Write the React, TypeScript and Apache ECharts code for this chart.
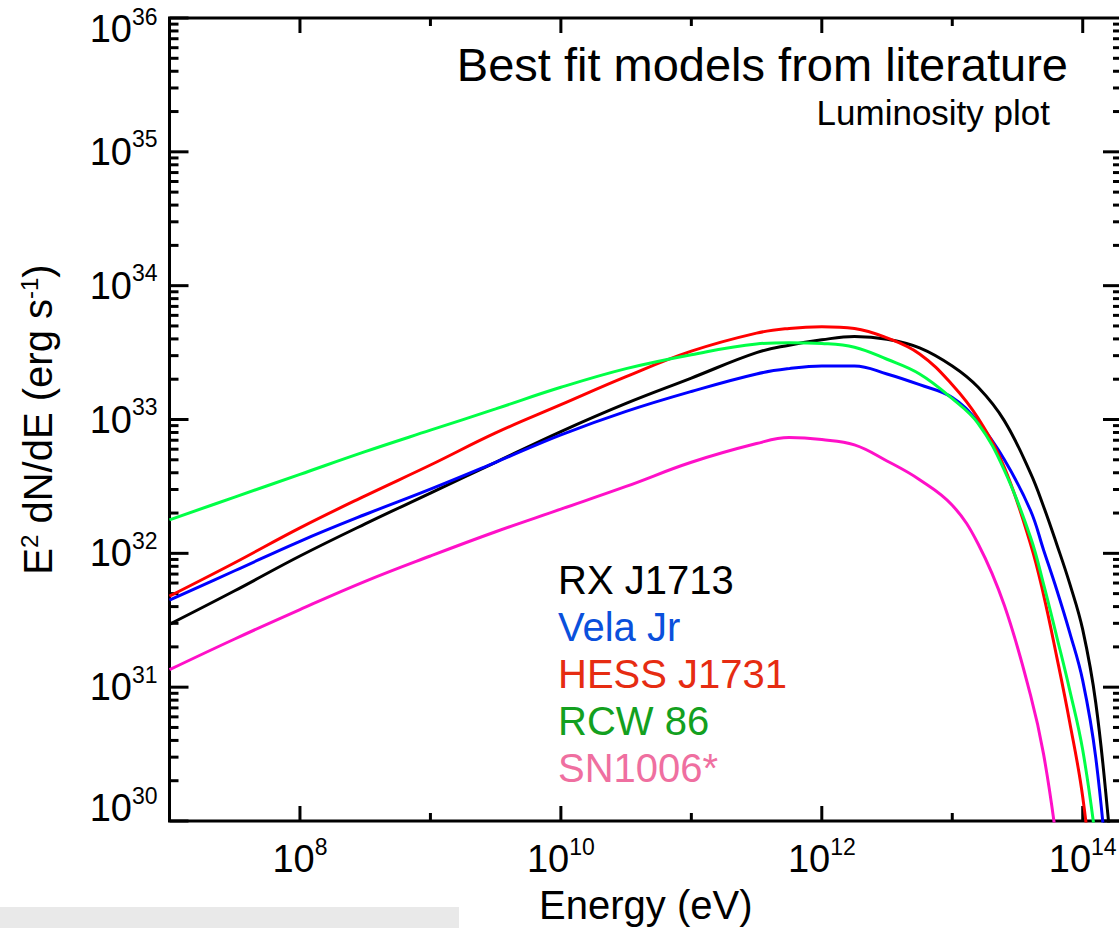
import React, { useEffect, useRef } from 'react';
import * as echarts from 'echarts';

const FONT = '"Liberation Sans", Arial, Helvetica, sans-serif';

// Energy grid (eV)
const energies = [
  1e7, 3.16e7, 1e8, 3.16e8, 1e9, 3.16e9, 1e10, 3.16e10, 1e11, 3.16e11, 5.62e11, 1e12,
  1.78e12, 3.16e12, 5.62e12, 1e13, 1.58e13, 2.51e13, 3.98e13, 5.01e13, 6.31e13,
  7.94e13, 1e14, 1.26e14, 1.58e14, 2e14,
];

// E^2 dN/dE (erg s^-1)
const rxJ1713 = [
  2.95e31, 5.25e31, 9.55e31, 1.66e32, 2.82e32, 4.79e32, 8.13e32, 1.32e33, 2.04e33, 3.16e33, 3.59e33, 3.94e33,
  4.17e33, 3.98e33, 3.43e33, 2.51e33, 1.74e33, 9.77e32, 3.98e32, 2.24e32, 1.175e32,
  5.96e31, 2.69e31, 7.59e30, 9.77e29, 7.94e28,
];
const velaJr = [
  4.47e31, 7.41e31, 1.23e32, 1.95e32, 3.02e32, 4.79e32, 7.67e32, 1.15e33, 1.62e33, 2.19e33, 2.4e33, 2.51e33,
  2.51e33, 2.19e33, 1.82e33, 1.46e33, 9.55e32, 5.01e32, 2.09e32, 1.06e32, 5.37e31,
  2.57e31, 1.12e31, 2.95e30, 3.16e29, null,
];
const hessJ1731 = [
  4.79e31, 8.51e31, 1.55e32, 2.69e32, 4.57e32, 7.94e32, 1.29e33, 2.09e33, 3.24e33, 4.42e33, 4.79e33, 4.93e33,
  4.79e33, 4.07e33, 3.09e33, 1.82e33, 1.02e33, 4.37e32, 1.175e32, 4.9e31, 1.7e31,
  5.5e30, 1.51e30, 2.0e29, null, null,
];
const rcw86 = [
  1.78e32, 2.63e32, 3.89e32, 5.75e32, 8.32e32, 1.2e33, 1.74e33, 2.4e33, 3.05e33, 3.67e33, 3.75e33, 3.7e33,
  3.47e33, 2.82e33, 2.19e33, 1.43e33, 9.33e32, 4.17e32, 1.32e32, 5.89e31, 2.4e31,
  9.55e30, 3.39e30, 7.08e29, null, null,
];
const sn1006 = [
  1.35e31, 2.29e31, 3.8e31, 6.17e31, 9.55e31, 1.45e32, 2.14e32, 3.16e32, 4.79e32, 6.61e32, 7.33e32, 7.08e32,
  6.46e32, 4.9e32, 3.55e32, 2.29e32, 1.175e32, 4.07e31, 8.71e30, 3.16e30, 7.08e29,
  null, null, null, null, null,
];

const seriesNames = ['RX J1713', 'Vela Jr', 'HESS J1731', 'RCW 86', 'SN1006*'];
const seriesValues = [rxJ1713, velaJr, hessJ1731, rcw86, sn1006];
const lineColors = ['#000000', '#0000ff', '#ff0000', '#00ff46', '#ff10c8'];
const legendColors = ['#000000', '#0a50dc', '#e62c12', '#13a020', '#ef6fa0'];

const xTickExponents = [8, 9, 10, 11, 12, 13, 14];
const yTickExponents = [30, 31, 32, 33, 34, 35];
const yMinorMultipliers = [2, 3, 4, 5, 6, 7, 8, 9];

const X_MIN = 1e7;
const X_MAX = 2e14;
const Y_MIN = 1e30;
const Y_MAX = 1e36;

export default function App() {
  const ref = useRef<HTMLDivElement>(null);

  useEffect(() => {
    const chart = echarts.init(ref.current!, null, { renderer: 'svg' });

    const expOf = (v: number) => {
      const e = Math.log10(v);
      const r = Math.round(e);
      return Math.abs(e - r) > 0.01 ? null : r;
    };
    const xLabel = (v: number) => {
      const r = expOf(v);
      if (r === null || r % 2 !== 0) return '';
      return `{b|10}{s|${r}}`;
    };
    const yLabel = (v: number) => {
      const r = expOf(v);
      if (r === null) return '';
      if (r === 36) return `{bt|10}{st|${r}}`;
      if (r === 30) return `{bb|10}{sb|${r}}`;
      return `{b|10}{s|${r}}`;
    };
    const base = { fontSize: 38, fontFamily: FONT, color: '#000' };
    const sup = { fontSize: 23, verticalAlign: 'top', fontFamily: FONT, color: '#000' };
    const rich: any = {
      b: { ...base, lineHeight: 48 },
      s: { ...sup },
      bt: { ...base, lineHeight: 48, padding: [22, 0, 0, 0] },
      st: { ...sup, padding: [11, 0, 0, 0] },
      bb: { ...base, lineHeight: 74, padding: [0, 0, 26, 0] },
      sb: { ...sup },
    };

    const option: any = {
      animation: false,
      backgroundColor: '#ffffff',
      title: [
        {
          text: 'Best fit models from literature',
          right: 46,
          top: 36,
          textStyle: { fontSize: 47, lineHeight: 47, fontWeight: 'normal', fontFamily: FONT, color: '#000' },
        },
        {
          text: 'Luminosity plot',
          right: 64,
          top: 90,
          textStyle: { fontSize: 35, lineHeight: 35, fontWeight: 'normal', fontFamily: FONT, color: '#000' },
        },
      ],
      legend: {
        orient: 'vertical',
        left: 553,
        top: 556,
        padding: 0,
        itemGap: 0,
        itemWidth: 0,
        itemHeight: 0,
        icon: 'none',
        selectedMode: false,
        textStyle: { fontSize: 40, lineHeight: 47, fontFamily: FONT },
        data: seriesNames.map((n, i) => ({ name: n, textStyle: { color: legendColors[i] } })),
      },
      grid: {
        left: 169.5,
        top: 18,
        right: -3,
        bottom: 107,
        outerBoundsMode: 'none',
        containLabel: false,
        show: true,
        borderColor: '#000',
        borderWidth: 3,
        backgroundColor: 'transparent',
      },
      xAxis: {
        type: 'log',
        logBase: 10,
        min: X_MIN,
        max: X_MAX,
        name: 'Energy (eV)',
        nameLocation: 'middle',
        nameGap: 64,
        nameTextStyle: { fontSize: 40, fontFamily: FONT, color: '#000' },
        axisLine: { show: false },
        axisTick: { show: false },
        splitLine: { show: false },
        axisLabel: {
          margin: 14,
          showMinLabel: false,
          showMaxLabel: false,
          formatter: xLabel,
          rich,
        },
      },
      yAxis: {
        type: 'log',
        logBase: 10,
        min: Y_MIN,
        max: Y_MAX,
        name: '{t|E}{s|2}{t| dN/dE (erg s}{s|-1}{t|)}',
        nameLocation: 'middle',
        nameGap: 112,
        nameTextStyle: {
          fontSize: 40,
          fontFamily: FONT,
          color: '#000',
          rich: {
            t: { fontSize: 40, lineHeight: 40, fontFamily: FONT, color: '#000' },
            s: { fontSize: 24, lineHeight: 10, verticalAlign: 'top', fontFamily: FONT, color: '#000' },
          },
        },
        axisLine: { show: false },
        axisTick: { show: false },
        splitLine: { show: false },
        axisLabel: {
          margin: 12,
          formatter: yLabel,
          rich,
        },
      },
      series: seriesNames.map((n, i) => ({
        name: n,
        type: 'line',
        data: energies.map((e, j) => [e, seriesValues[i][j]]),
        showSymbol: false,
        smooth: 0.4,
        clip: true,
        lineStyle: { color: lineColors[i], width: 3 },
        itemStyle: { color: lineColors[i] },
      })),
    };

    chart.setOption(option);

    const g: any[] = [];
    const [xl, yb] = chart.convertToPixel({ gridIndex: 0 }, [X_MIN, Y_MIN]) as number[];
    const [xr, yt] = chart.convertToPixel({ gridIndex: 0 }, [X_MAX, Y_MAX]) as number[];
    const tick = (x1: number, y1: number, x2: number, y2: number) =>
      g.push({
        type: 'line',
        silent: true,
        shape: { x1, y1, x2, y2 },
        style: { stroke: '#000', lineWidth: 3 },
      });

    xTickExponents.forEach((k) => {
      const px = chart.convertToPixel({ xAxisIndex: 0 }, Math.pow(10, k)) as number;
      const len = k % 2 === 0 ? 15 : 8;
      tick(px, yb, px, yb - len);
      tick(px, yt, px, yt + len);
    });
    yTickExponents.forEach((k) => {
      const b = Math.pow(10, k);
      const pMaj = chart.convertToPixel({ yAxisIndex: 0 }, b) as number;
      tick(xl, pMaj, xl + 19, pMaj);
      tick(xr, pMaj, xr - 19, pMaj);
      yMinorMultipliers.forEach((m) => {
        const p = chart.convertToPixel({ yAxisIndex: 0 }, m * b) as number;
        tick(xl, p, xl + 9, p);
        tick(xr, p, xr - 9, p);
      });
    });
    const pTop = chart.convertToPixel({ yAxisIndex: 0 }, Y_MAX) as number;
    tick(xl, pTop, xl + 19, pTop);

    g.push({
      type: 'rect',
      silent: true,
      shape: { x: 0, y: 907, width: 459, height: 21 },
      style: { fill: '#e9e9e9' },
      z: -1,
    });

    chart.setOption({ graphic: g });

    return () => chart.dispose();
  }, []);

  return (
    <div
      ref={ref}
      style={{ position: 'absolute', left: 0, top: 0, width: 1119, height: 928 }}
    />
  );
}
